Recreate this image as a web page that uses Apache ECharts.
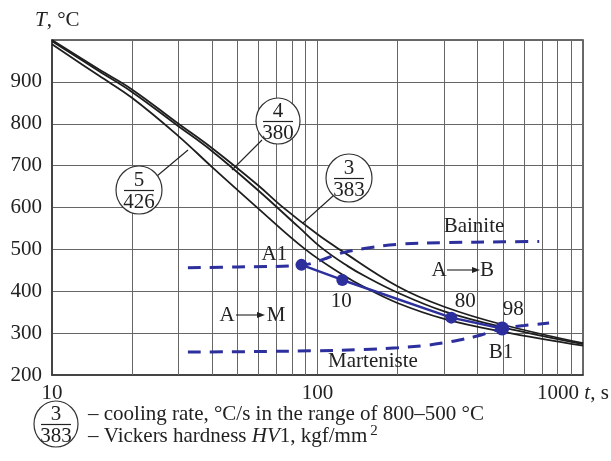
<!DOCTYPE html>
<html>
<head>
<meta charset="utf-8">
<script src="https://cdn.jsdelivr.net/npm/echarts@6/dist/echarts.min.js"></script>
<style>
html, body { margin: 0; padding: 0; background: #fff; }
#chart { width: 611px; height: 461px; }
</style>
</head>
<body>
<div id="chart"></div>
<script>
// Cooling curves, [time t (s), temperature T (°C)]
const curve5_426 = [[10, 990], [15, 915], [20, 862], [30, 770], [40, 697], [59, 601], [90, 500], [124, 440], [150, 410], [200, 372], [300, 334], [500, 303], [1000, 270]];
const curve4_380 = [[10, 997], [15, 926], [20, 876], [29.5, 797], [40, 735], [60, 640], [85, 553], [104, 503], [130, 460], [150, 437], [200, 397], [300, 352], [500, 314], [1000, 274]];
const curve3_383 = [[10, 1000], [15, 930], [20, 882], [29.5, 803], [40, 742], [60, 652], [73, 604], [100, 536], [121, 500], [200, 412], [300, 363], [500, 320], [1000, 276]];

// Transformation start lines (dashed)
const bainiteStart = [[32.5, 456], [50, 458], [87, 462], [105, 476], [121, 490], [150, 502], [200, 512], [300, 516], [500, 518], [684, 519]];
const martensiteStart = [[32.5, 255], [60, 256], [100, 258], [150, 261], [200, 265], [250, 270], [300, 277], [350, 285], [400, 293], [450, 303], [496, 311], [600, 318], [745, 324]];

// Measured transformation points and bainite fraction labels
const transformPoints = [[87, 463], [124, 427], [319, 337], [496, 311]];
const pointLabels = ['A1', '10', '80', '98'];

// Axis ticks
const xTicks = [10, 100, 1000];
const xMinorGrid = [20, 30, 40, 50, 60, 70, 80, 90, 200, 300, 400, 500, 600, 700, 800, 900];
const yTicks = [200, 300, 400, 500, 600, 700, 800, 900, 1000];

const SERIF = "'Liberation Serif', 'Times New Roman', serif";
const FS = 21;
const BLUE = '#2c2f9c';
const CURVE = '#1e1e1e';
const INK = '#222';

const chart = echarts.init(document.getElementById('chart'), null, { renderer: 'canvas' });

const labelOffsets = [[-27, -10], [-1, 22], [14, -16], [11, -19]];

function circled(cx, cy, r, top, bottom) {
  return [
    { type: 'ellipse', shape: { cx: cx, cy: cy, rx: r, ry: r + 1 }, style: { fill: '#fff', stroke: '#333', lineWidth: 1.2 }, z: 20 },
    { type: 'line', shape: { x1: cx - 15, y1: cy + 0.5, x2: cx + 15, y2: cy + 0.5 }, style: { stroke: INK, lineWidth: 1.2 }, z: 21 },
    { type: 'text', x: cx, y: cy - 10, style: { text: top, font: FS + 'px ' + SERIF, fill: INK, align: 'center', verticalAlign: 'middle' }, z: 21 },
    { type: 'text', x: cx, y: cy + 12, style: { text: bottom, font: FS + 'px ' + SERIF, fill: INK, align: 'center', verticalAlign: 'middle' }, z: 21 }
  ];
}

function leader(x1, y1, x2, y2) {
  return { type: 'line', shape: { x1: x1, y1: y1, x2: x2, y2: y2 }, style: { stroke: INK, lineWidth: 1.1 }, z: 19 };
}

function txt(x, y, s) {
  return { type: 'text', x: x, y: y, style: { text: s, font: FS + 'px ' + SERIF, fill: INK, align: 'center', verticalAlign: 'middle' }, z: 22 };
}

function arrow(x1, x2, y) {
  return [
    { type: 'line', shape: { x1: x1, y1: y, x2: x2 - 6, y2: y }, style: { stroke: INK, lineWidth: 1.1 }, z: 22 },
    { type: 'polygon', shape: { points: [[x2, y], [x2 - 8, y - 3], [x2 - 8, y + 3]] }, style: { fill: INK }, z: 22 }
  ];
}

const graphics = [].concat(
  [{
    type: 'text', x: 35, y: 20,
    style: {
      text: '{i|T}{n|, °C}',
      rich: {
        i: { fontFamily: SERIF, fontStyle: 'italic', fontSize: FS, fill: INK },
        n: { fontFamily: SERIF, fontSize: FS, fill: INK }
      },
      verticalAlign: 'middle'
    }
  }],
  [leader(262, 140, 232, 170), leader(157, 176, 188, 150), leader(333, 196, 303, 223)],
  circled(278, 121, 22, '4', '380'),
  circled(139, 190, 23, '5', '426'),
  circled(349, 178, 23, '3', '383'),
  [txt(474, 226, 'Bainite'), txt(373, 361, 'Marteniste'), txt(501, 352, 'B1')],
  [txt(439, 270, 'A'), txt(487, 270, 'B')], arrow(447, 480, 270),
  [txt(227, 315, 'A'), txt(276, 315, 'M')], arrow(236, 265, 315),
  circled(56, 424, 22, '3', '383'),
  [{
    type: 'text', x: 88, y: 414,
    style: { text: '– cooling rate, °C/s in the range of 800–500 °C', font: FS + 'px ' + SERIF, fill: INK, verticalAlign: 'middle' }
  }, {
    type: 'text', x: 88, y: 436,
    style: {
      text: '{n|– Vickers hardness }{i|HV}{n|1, kgf/mm}{s|2}',
      rich: {
        n: { fontFamily: SERIF, fontSize: FS, fill: INK },
        i: { fontFamily: SERIF, fontStyle: 'italic', fontSize: FS, fill: INK },
        s: { fontFamily: SERIF, fontSize: 15, fill: INK, padding: [0, 0, 9, 3] }
      },
      verticalAlign: 'middle'
    }
  }]
);

const option = {
  animation: false,
  backgroundColor: '#fff',
  grid: {
    left: 52, right: 28, top: 40, bottom: 86,
    show: true, borderColor: '#3a3a3a', borderWidth: 1.5,
    containLabel: false, outerBoundsMode: 'none'
  },
  xAxis: {
    type: 'log', logBase: 10, min: xTicks[0], max: xTicks[xTicks.length - 1],
    axisLine: { lineStyle: { color: '#3a3a3a', width: 1.5 } },
    axisTick: { show: false },
    splitLine: { show: true, lineStyle: { color: '#666', width: 1 } },
    axisLabel: {
      margin: 8,
      color: INK, fontFamily: SERIF, fontSize: FS,
      formatter: function (v) {
        if (v === xTicks[2]) return '{n|' + v + ' }{i|t}{n|, s}{p|}';
        return '{n|' + v + '}';
      },
      rich: {
        n: { fontFamily: SERIF, fontSize: FS, color: INK },
        i: { fontFamily: SERIF, fontStyle: 'italic', fontSize: FS, color: INK },
        p: { width: 20 }
      }
    }
  },
  yAxis: {
    type: 'value', min: yTicks[0], max: yTicks[yTicks.length - 1], interval: 100,
    axisLine: { show: true, lineStyle: { color: '#3a3a3a', width: 1.5 } },
    axisTick: { show: false },
    splitLine: { show: true, lineStyle: { color: '#666', width: 1 } },
    axisLabel: {
      margin: 10,
      fontFamily: SERIF, fontSize: FS, color: INK,
      formatter: function (v) { return v === yTicks[yTicks.length - 1] ? '' : String(v); }
    }
  },
  series: [
    {
      type: 'line', data: [], silent: true,
      markLine: {
        silent: true, symbol: 'none', label: { show: false },
        lineStyle: { color: '#666', width: 1, type: 'solid' },
        data: xMinorGrid.map(function (v) { return { xAxis: v }; })
      }
    },
    { type: 'line', data: curve5_426, smooth: 0.4, showSymbol: false, lineStyle: { color: CURVE, width: 1.8 }, z: 5 },
    { type: 'line', data: curve4_380, smooth: 0.4, showSymbol: false, lineStyle: { color: CURVE, width: 1.8 }, z: 5 },
    { type: 'line', data: curve3_383, smooth: 0.4, showSymbol: false, lineStyle: { color: CURVE, width: 1.8 }, z: 5 },
    { type: 'line', data: bainiteStart, smooth: 0.4, showSymbol: false, lineStyle: { color: BLUE, width: 3, type: [13, 9] }, z: 6 },
    { type: 'line', data: martensiteStart, smooth: 0.4, showSymbol: false, lineStyle: { color: BLUE, width: 3, type: [13, 9] }, z: 6 },
    {
      type: 'line', z: 7,
      data: transformPoints.map(function (p, i) {
        return {
          value: p,
          symbolSize: i === 3 ? 14 : 12,
          label: { show: true, formatter: pointLabels[i], position: 'inside', offset: labelOffsets[i], fontFamily: SERIF, fontSize: FS, color: INK }
        };
      }),
      symbol: 'circle', showAllSymbol: true,
      itemStyle: { color: BLUE },
      lineStyle: { color: BLUE, width: 2.5 }
    }
  ],
  graphic: graphics
};

chart.setOption(option);
</script>
</body>
</html>
